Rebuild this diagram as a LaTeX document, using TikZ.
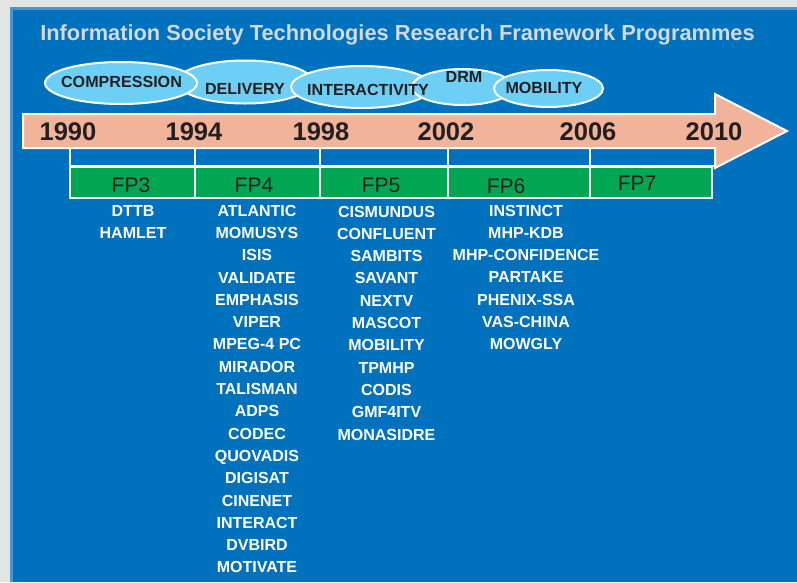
\documentclass[tikz,border=0pt]{standalone}
\usepackage{fontspec}
\setmainfont{Liberation Sans}
\usetikzlibrary{shapes.geometric}
\definecolor{outerbg}{HTML}{E1E6E1}
\definecolor{panelblue}{HTML}{0071BC}
\definecolor{paneledge}{HTML}{4F93D2}
\definecolor{bubble}{HTML}{6DCFF6}
\definecolor{salmon}{HTML}{F1B49A}
\definecolor{fpgreen}{HTML}{00A651}
\definecolor{darktext}{HTML}{231F20}
\definecolor{titletext}{HTML}{D3D9E0}
\tikzset{
  bubblebox/.style={ellipse, draw=white, line width=2pt, fill=bubble, inner sep=0pt},
  bubbletext/.style={anchor=base, inner sep=0pt, text=darktext, font=\fontsize{16.1}{17}\selectfont\bfseries},
  yeartext/.style={anchor=base, inner sep=0pt, text=darktext, font=\fontsize{25.5}{26}\selectfont\bfseries},
  fptext/.style={anchor=base, inner sep=0pt, text=darktext, font=\fontsize{21}{22}\selectfont},
  projtext/.style={anchor=base, inner sep=0pt, text=white, font=\fontsize{16}{17}\selectfont\bfseries},
  topcell/.style={draw=white, line width=1.6pt, fill=panelblue},
  fpcell/.style={draw=white, line width=1.6pt, fill=fpgreen},
}
\begin{document}
\begin{tikzpicture}[x=1pt,y=-1pt]
\useasboundingbox (0,0) rectangle (797,582);
% background
\fill[outerbg] (0,0) rectangle (797,582);
\fill[panelblue] (10,7) rectangle (797,582);
\draw[paneledge, line width=2.5pt] (11.25,582) -- (11.25,8.25) -- (797,8.25);
% title
\node[anchor=base, inner sep=0pt, text=titletext, font=\fontsize{21.8}{22}\selectfont\bfseries] (title) at (397.5,40.5) {Information Society Technologies Research Framework Programmes};
% bubbles
\node[bubblebox, minimum width=136pt, minimum height=43pt] (bdel) at (245,82) {};
\node[bubblebox, minimum width=152pt, minimum height=42pt] (bcomp) at (121,83) {};
\node[bubblebox, minimum width=141pt, minimum height=42pt] (binter) at (361.5,87) {};
\node[bubblebox, minimum width=101pt, minimum height=36pt] (bdrm) at (462.5,87) {};
\node[bubblebox, minimum width=109pt, minimum height=37pt] (bmob) at (548.5,88.5) {};
\node[bubbletext] (tcomp) at (121.5,87.5) {COMPRESSION};
\node[bubbletext] (tdel) at (245,94) {DELIVERY};
\node[bubbletext] (tinter) at (368,95) {INTERACTIVITY};
\node[bubbletext] (tdrm) at (464,82.5) {DRM};
\node[bubbletext] (tmob) at (544,93) {MOBILITY};
% timeline cells (upper row)
\node[topcell, minimum width=125pt, minimum height=18pt, inner sep=0pt] (c3) at (132.5,157) {};
\node[topcell, minimum width=125pt, minimum height=18pt, inner sep=0pt] (c4) at (257.5,157) {};
\node[topcell, minimum width=128pt, minimum height=18pt, inner sep=0pt] (c5) at (384,157) {};
\node[topcell, minimum width=142pt, minimum height=18pt, inner sep=0pt] (c6) at (519,157) {};
\node[topcell, minimum width=125pt, minimum height=18pt, inner sep=0pt] (c7) at (652.5,157) {};
% arrow
\draw[white, line width=2pt, fill=salmon, line join=miter]
  (23,114) -- (715,114) -- (715,94) -- (787,131) -- (715,168) -- (715,148) -- (23,148) -- cycle;
% green cells
\node[fpcell, minimum width=125pt, minimum height=31pt, inner sep=0pt] (g3) at (132.5,182.5) {};
\node[fpcell, minimum width=125pt, minimum height=31pt, inner sep=0pt] (g4) at (257.5,182.5) {};
\node[fpcell, minimum width=128pt, minimum height=31pt, inner sep=0pt] (g5) at (384,182.5) {};
\node[fpcell, minimum width=142pt, minimum height=31pt, inner sep=0pt] (g6) at (519,182.5) {};
\node[fpcell, minimum width=122pt, minimum height=31pt, inner sep=0pt] (g7) at (651,182.5) {};
% years
\node[yeartext] (y1990) at (68,140) {1990};
\node[yeartext] (y1994) at (194,140) {1994};
\node[yeartext] (y1998) at (321,140) {1998};
\node[yeartext] (y2002) at (446,140) {2002};
\node[yeartext] (y2006) at (588,140) {2006};
\node[yeartext] (y2010) at (714,140) {2010};
% FP labels
\node[fptext] (fp3) at (131,192) {FP3};
\node[fptext] (fp4) at (254,192) {FP4};
\node[fptext] (fp5) at (381,192.5) {FP5};
\node[fptext] (fp6) at (506,193) {FP6};
\node[fptext] (fp7) at (637,190.5) {FP7};
% project lists
\foreach \p [count=\i from 0] in {DTTB,HAMLET}
  \node[projtext] (pa\i) at (133,216.1+22.3*\i) {\p};
\foreach \p [count=\i from 0] in {ATLANTIC,MOMUSYS,ISIS,VALIDATE,EMPHASIS,VIPER,MPEG-4 PC,MIRADOR,TALISMAN,ADPS,CODEC,QUOVADIS,DIGISAT,CINENET,INTERACT,DVBIRD,MOTIVATE}
  \node[projtext] (pb\i) at (257,216.1+22.3*\i) {\p};
\foreach \p [count=\i from 0] in {CISMUNDUS,CONFLUENT,SAMBITS,SAVANT,NEXTV,MASCOT,MOBILITY,TPMHP,CODIS,GMF4ITV,MONASIDRE}
  \node[projtext] (pc\i) at (386.5,217+22.3*\i) {\p};
\foreach \p [count=\i from 0] in {INSTINCT,MHP-KDB,MHP-CONFIDENCE,PARTAKE,PHENIX-SSA,VAS-CHINA,MOWGLY}
  \node[projtext] (pd\i) at (526,216+22.3*\i) {\p};
\end{tikzpicture}
\end{document}
